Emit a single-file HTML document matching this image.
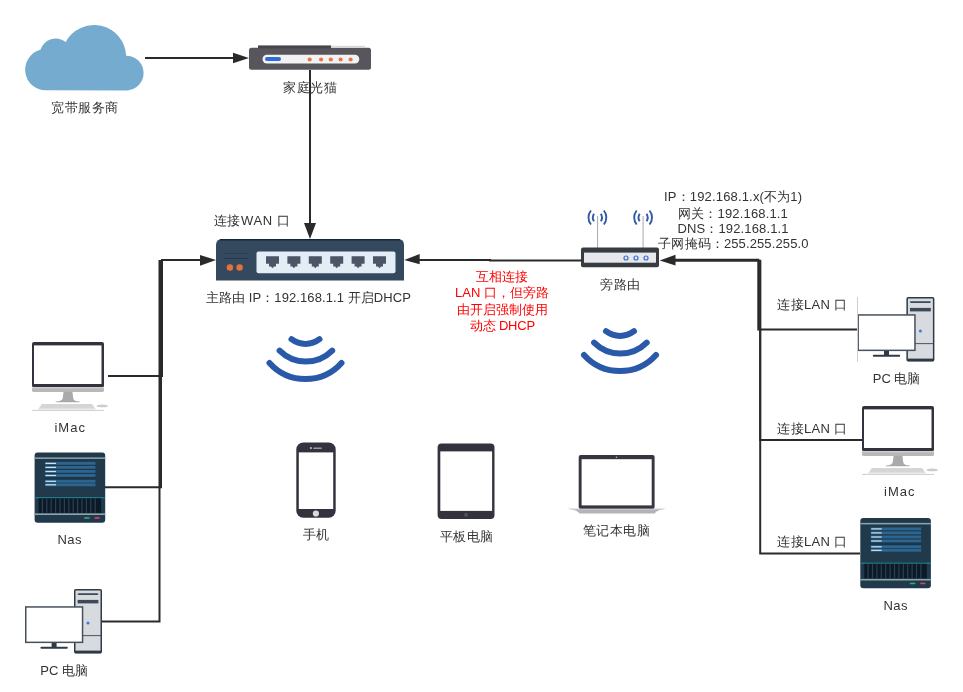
<!DOCTYPE html>
<html><head><meta charset="utf-8">
<style>
html,body{margin:0;padding:0;background:#fff;width:963px;height:692px;overflow:hidden}
svg{display:block;will-change:transform}
text{font-family:"Liberation Sans",sans-serif;font-size:13px;fill:#333}
</style></head>
<body>
<svg width="963" height="692" viewBox="0 0 963 692">
<defs>
  <g id="pc">
    <!-- tower at 0,0 28x64 ; monitor at -49,17 58x36 -->
    <rect x="0.75" y="0.75" width="26.5" height="62.9" rx="1" fill="#d7dbe0" stroke="#2e3b47" stroke-width="1.5"/>
    <rect x="1" y="61.6" width="26" height="2.6" fill="#2e3b47"/>
    <rect x="3.6" y="4.3" width="20.8" height="1.6" rx="0.8" fill="#3c4a57"/>
    <rect x="3.6" y="10.9" width="20.8" height="3.5" fill="#3c4a57"/>
    <rect x="1" y="46.2" width="26" height="0.9" fill="#3a4652"/>
    <circle cx="14" cy="34" r="1.5" fill="#3a78d8"/>
    <rect x="-48.25" y="17.95" width="56.8" height="35.4" fill="#fff" stroke="#46515c" stroke-width="1.5"/>
    <rect x="-22.4" y="54" width="5" height="4.2" fill="#2e3b47"/>
    <rect x="-33.6" y="57.8" width="27.4" height="2" rx="1" fill="#2e3b47"/>
  </g>
  <g id="imac">
    <!-- screen at 0,0 72 wide -->
    <rect x="0" y="0" width="72" height="45.4" rx="2" fill="#33333d"/>
    <rect x="2" y="3.4" width="67.5" height="38.6" fill="#fff"/>
    <path d="M0 45 H72 V48.2 Q72 50.1 70 50.1 H2 Q0 50.1 0 48.2 Z" fill="#b8b8b8"/>
    <rect x="0" y="45" width="72" height="1.3" fill="#d0d0d0"/>
    <path d="M31.6 49.8 H40.4 L41.3 56.5 Q42 59.3 47.8 59.6 V60.3 H23.7 V59.6 Q29.5 59.3 30.7 56.5 Z" fill="#aaaaaa"/>
    <path d="M9.6 62 H60.3 L64 67.5 H5.9 Z" fill="#e0e0e0"/>
    <path d="M10 62.8 H60 M9.4 64 H60.8 M8.6 65.2 H61.6" stroke="#c4c4c4" stroke-width="0.7" stroke-dasharray="1.5 0.6"/>
    <ellipse cx="70.2" cy="63.9" rx="5.8" ry="1.4" fill="#cccccc"/>
    <rect x="0" y="67.9" width="72" height="0.9" fill="#c9c9c9"/>
  </g>
  <g id="nas">
    <rect x="0" y="0" width="70.6" height="70.3" rx="3" fill="#213a4b"/>
    <rect x="0" y="5" width="70.6" height="1.5" fill="#8fa3ad"/>
    <rect x="10.4" y="9.3" width="50.5" height="22" fill="#1d3546"/>
    <g fill="#2b6590">
      <rect x="10.4" y="9.5" width="50.5" height="2.9"/>
      <rect x="10.4" y="13.5" width="50.5" height="2.9"/>
      <rect x="10.4" y="17.6" width="50.5" height="2.9"/>
      <rect x="10.4" y="21.6" width="50.5" height="2.9"/>
      <rect x="10.4" y="27.4" width="50.5" height="2.9"/>
      <rect x="10.4" y="30.9" width="50.5" height="2.9"/>
    </g>
    <g fill="#cfe2ec">
      <rect x="10.9" y="10.4" width="10.5" height="1.2"/>
      <rect x="10.9" y="14.4" width="10.5" height="1.2"/>
      <rect x="10.9" y="18.5" width="10.5" height="1.2"/>
      <rect x="10.9" y="22.5" width="10.5" height="1.2"/>
      <rect x="10.9" y="28.3" width="10.5" height="1.2"/>
      <rect x="10.9" y="31.8" width="10.5" height="1.2"/>
    </g>
    <rect x="0" y="44.8" width="70.6" height="1.1" fill="#1f8a98"/>
    <rect x="4" y="45.9" width="62.5" height="14.6" fill="#0c1a27"/>
    <g fill="#2a4152">
      <rect x="7.2" y="45.9" width="1.2" height="14.6"/><rect x="11.6" y="45.9" width="1.2" height="14.6"/>
      <rect x="16" y="45.9" width="1.2" height="14.6"/><rect x="20.4" y="45.9" width="1.2" height="14.6"/>
      <rect x="24.8" y="45.9" width="1.2" height="14.6"/><rect x="29.2" y="45.9" width="1.2" height="14.6"/>
      <rect x="33.6" y="45.9" width="1.2" height="14.6"/><rect x="38" y="45.9" width="1.2" height="14.6"/>
      <rect x="42.4" y="45.9" width="1.2" height="14.6"/><rect x="46.8" y="45.9" width="1.2" height="14.6"/>
      <rect x="51.2" y="45.9" width="1.2" height="14.6"/><rect x="55.6" y="45.9" width="1.2" height="14.6"/>
      <rect x="60" y="45.9" width="1.2" height="14.6"/>
    </g>
    <rect x="0" y="61" width="70.6" height="1.6" fill="#8fa3ad"/>
    <ellipse cx="52.3" cy="65.5" rx="3.1" ry="0.95" fill="#3aa37a"/>
    <ellipse cx="62.5" cy="65.5" rx="2.9" ry="0.95" fill="#d8436b"/>
  </g>
  <g id="wifi" fill="none" stroke="#2b59aa" stroke-width="6" stroke-linecap="round">
    <path d="M291.5 338.8 A23.2 23.2 0 0 0 319.5 338.8"/>
    <path d="M279.6 350.2 A37.2 37.2 0 0 0 332.2 350.2"/>
    <path d="M269.5 362.6 A48.3 48.3 0 0 0 341.5 362.6"/>
  </g>
  <g id="ant" fill="none" stroke="#3259a6" stroke-width="1.9" stroke-linecap="butt">
    <path d="M-6.4 -7 A11 11 0 0 0 -6.4 7"/>
    <path d="M6.4 -7 A11 11 0 0 1 6.4 7"/>
    <path d="M-3.4 -3.8 A7 7 0 0 0 -3.4 3.8"/>
    <path d="M3.4 -3.8 A7 7 0 0 1 3.4 3.8"/>
  </g>
</defs>

<!-- ===== connectors ===== -->
<g fill="none" stroke="#2a2a2a" stroke-width="2">
  <path d="M145 58 H234"/>
  <path d="M310 70 V224"/>
  <!-- left trunk -->
  <path d="M108 376 H162 V260 H201"/>
  <path d="M105 487.3 H161 V260"/>
  <path d="M102 621.5 H159.5 V260"/>
  <!-- side router to main -->
  <path d="M419 260 H490 V260.4 H581"/>
  <!-- right trunk -->
  <path d="M858 329.4 H758.3 V259.8 H675"/>
  <path d="M862 440 H760.2 V260.8 H675"/>
  <path d="M860 553.4 H760.2 V260.8"/>
</g>
<g fill="#2a2a2a">
  <path d="M233 52.8 L249 58 L233 63.2 Z"/>
  <path d="M304 223 L316 223 L310 239 Z"/>
  <path d="M200 254.9 L216 260 L200 265.8 Z"/>
  <path d="M419.7 254.1 L404.2 260 L419.7 264.2 Z"/>
  <path d="M675.5 254.7 L659.7 260.5 L675.5 265.6 Z"/>
</g>

<!-- ===== cloud ===== -->
<path fill="#74abce" d="M45.8 90.3 A20.6 20.6 0 0 1 40.43 49.81 A16.1 16.1 0 0 1 65.68 41.88 A32.2 32.2 0 0 1 126.16 55.63 A17.4 17.4 0 0 1 127.2 90.4 Z"/>

<!-- ===== modem ===== -->
<g>
  <rect x="249" y="47.8" width="122" height="22" rx="2.5" fill="#58565c"/>
  <rect x="258" y="45.4" width="73" height="3" fill="#48464c"/>
  <rect x="331" y="45.8" width="34" height="1.2" fill="#d8d8d8"/>
  <rect x="262.5" y="54.7" width="96.8" height="8.7" rx="4.35" fill="#f2f2f4"/>
  <rect x="265" y="57" width="16" height="4" rx="2" fill="#2f6dd3"/>
  <g fill="#e27848">
    <circle cx="309.7" cy="59.5" r="2.1"/><circle cx="321.1" cy="59.5" r="2.1"/>
    <circle cx="330.8" cy="59.5" r="2.1"/><circle cx="340.6" cy="59.5" r="2.1"/>
    <circle cx="350.6" cy="59.5" r="2.1"/>
  </g>
</g>

<!-- ===== main router ===== -->
<g>
  <path d="M216 280.5 V245 Q216 239 222 239 H398 Q404 239 404 245 V280.5 Z" fill="#34495e"/>
  <path d="M220 239.8 H400" stroke="#15263a" stroke-width="1.6"/>
  <rect x="224" y="253" width="24" height="1" fill="#283f55"/>
  <rect x="224" y="258" width="24" height="1" fill="#22384d"/>
  <circle cx="229.9" cy="267.5" r="3.2" fill="#e8703a"/>
  <circle cx="239.6" cy="267.5" r="3.2" fill="#e8703a"/>
  <rect x="256.5" y="251.4" width="139" height="21.8" rx="2" fill="#e3edf5"/>
  <g fill="#4a5565">
    <path id="port" d="M266 256.3 H279 V263.8 H276 V266.5 H274 L272.5 268.3 L271 266.5 H269 V263.8 H266 Z"/>
    <use href="#port" x="21.4"/><use href="#port" x="42.8"/><use href="#port" x="64.2"/>
    <use href="#port" x="85.6"/><use href="#port" x="107"/>
  </g>
</g>

<!-- ===== side router ===== -->
<g>
  <line x1="597.6" y1="216" x2="597.6" y2="248" stroke="#a8a8a8" stroke-width="1"/>
  <line x1="643.1" y1="216" x2="643.1" y2="248" stroke="#a8a8a8" stroke-width="1"/>
  <use href="#ant" x="597.4" y="217.5"/>
  <use href="#ant" x="643.1" y="217.5"/>
  <rect x="581" y="247.4" width="78" height="19.8" rx="2" fill="#363c41"/>
  <rect x="584" y="252.6" width="72" height="10.1" fill="#e7e8eb"/>
  <g fill="none" stroke="#3b6fd0" stroke-width="1.2">
    <circle cx="626" cy="258" r="2"/><circle cx="636" cy="258" r="2"/><circle cx="646" cy="258" r="2"/>
  </g>
</g>

<!-- ===== wifi ===== -->
<use href="#wifi" y="0.4"/>
<use href="#wifi" x="314.5" y="-7.6"/>

<!-- ===== phone ===== -->
<g>
  <rect x="296.3" y="442.4" width="39.4" height="75.4" rx="7" fill="#33333d"/>
  <rect x="298.8" y="452.4" width="34.4" height="56.6" fill="#fff"/>
  <circle cx="310.9" cy="448.1" r="1.1" fill="#b8b8bd"/><rect x="313.2" y="447.4" width="8.7" height="1.6" rx="0.8" fill="#9a9aa2"/>
  <circle cx="315.9" cy="513.5" r="3.1" fill="#dadadd"/>
</g>
<!-- ===== tablet ===== -->
<g>
  <rect x="437.6" y="443.4" width="56.9" height="75.7" rx="4" fill="#33333d"/>
  <rect x="440.3" y="451.4" width="51.8" height="59.5" fill="#fff"/>
  <ellipse cx="466" cy="514.9" rx="1.8" ry="2.1" fill="#50545c"/>
</g>
<!-- ===== laptop ===== -->
<g>
  <rect x="578.7" y="455.1" width="75.9" height="53.9" rx="2" fill="#35363f"/>
  <rect x="581.6" y="459.2" width="70.1" height="46.2" fill="#fff"/>
  <circle cx="616.5" cy="457.2" r="0.8" fill="#bbb"/>
  <path d="M567.4 508.7 H666 Q656.5 509.6 654.8 513.6 H579.4 Q577.6 509.6 567.4 508.7 Z" fill="#b4b4b8"/>
  <path d="M567.4 508.7 H666 L662 509.5 H571.4 Z" fill="#d5d5d8"/>
</g>

<!-- ===== devices ===== -->
<use href="#imac" x="32" y="342"/>
<use href="#imac" x="862" y="406"/>
<use href="#nas" x="34.6" y="452.4"/>
<use href="#nas" x="860.3" y="517.9"/>
<use href="#pc" x="74" y="589"/>
<use href="#pc" x="906.4" y="297"/>
<line x1="857.5" y1="297" x2="857.5" y2="362" stroke="#cfcfcf" stroke-width="1"/>

<!-- ===== labels ===== -->
<g class="labels" text-anchor="middle">
  <text id="cloud" x="84.60" y="111.90" textLength="67.00" lengthAdjust="spacing">宽带服务商</text>
  <text id="modem" x="310.05" y="91.80" textLength="54.00" lengthAdjust="spacing">家庭光猫</text>
  <text id="wan" x="251.85" y="225.00" textLength="76.47" lengthAdjust="spacing">连接WAN 口</text>
  <text id="main" x="308.40" y="301.90" textLength="205.03" lengthAdjust="spacing">主路由 IP：192.168.1.1 开启DHCP</text>
  <text id="side" x="620.20" y="289.40" textLength="40.00" lengthAdjust="spacing">旁路由</text>
  <text id="ip1" x="733.05" y="201.30" textLength="138.12" lengthAdjust="spacing">IP：192.168.1.x(不为1)</text>
  <text id="ip2" x="733.00" y="217.70" textLength="109.69" lengthAdjust="spacing">网关：192.168.1.1</text>
  <text id="ip3" x="732.95" y="232.60" textLength="111.12" lengthAdjust="spacing">DNS：192.168.1.1</text>
  <text id="ip4" x="733.40" y="248.00" textLength="150.14" lengthAdjust="spacing">子网掩码：255.255.255.0</text>
  <text id="red1" x="502.05" y="281.20" textLength="52.00" lengthAdjust="spacing" style="fill:#f00">互相连接</text>
  <text id="red2" x="502.00" y="297.40" textLength="93.91" lengthAdjust="spacing" style="fill:#f00">LAN 口，但旁路</text>
  <text id="red3" x="502.05" y="314.10" textLength="91.00" lengthAdjust="spacing" style="fill:#f00">由开启强制使用</text>
  <text id="red4" x="502.50" y="329.70" textLength="65.45" lengthAdjust="spacing" style="fill:#f00">动态 DHCP</text>
  <text id="lan1" x="812.25" y="309.40" textLength="69.91" lengthAdjust="spacing">连接LAN 口</text>
  <text id="lan2" x="812.25" y="433.10" textLength="69.91" lengthAdjust="spacing">连接LAN 口</text>
  <text id="lan3" x="812.25" y="545.80" textLength="69.91" lengthAdjust="spacing">连接LAN 口</text>
  <text id="imacL" x="69.70" y="431.70" textLength="30.45" lengthAdjust="spacing">iMac</text>
  <text id="nasL" x="69.50" y="543.70" textLength="24.13" lengthAdjust="spacing">Nas</text>
  <text id="pcL" x="64.05" y="674.90" textLength="47.67" lengthAdjust="spacing">PC 电脑</text>
  <text id="phone" x="316.30" y="538.60" textLength="26.00" lengthAdjust="spacing">手机</text>
  <text id="tablet" x="466.65" y="540.60" textLength="53.00" lengthAdjust="spacing">平板电脑</text>
  <text id="laptop" x="616.35" y="534.80" textLength="67.00" lengthAdjust="spacing">笔记本电脑</text>
  <text id="pcR" x="896.55" y="382.80" textLength="47.67" lengthAdjust="spacing">PC 电脑</text>
  <text id="imacR" x="899.30" y="495.70" textLength="30.45" lengthAdjust="spacing">iMac</text>
  <text id="nasR" x="895.45" y="609.50" textLength="24.12" lengthAdjust="spacing">Nas</text>
</g>
</svg>
</body></html>
